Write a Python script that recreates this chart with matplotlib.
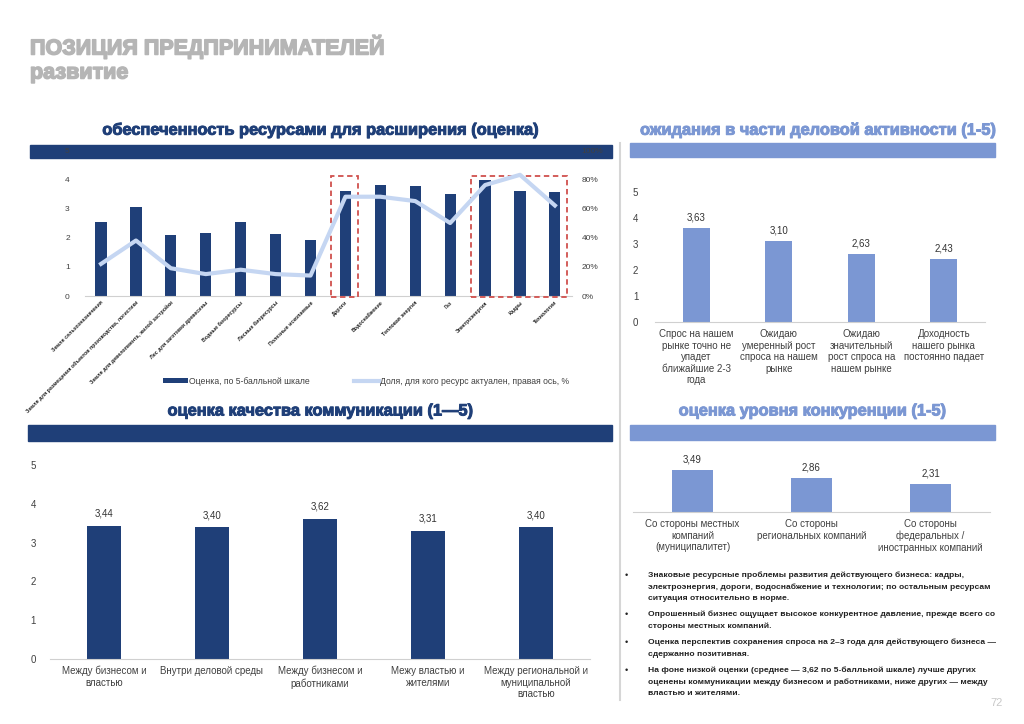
import matplotlib.pyplot as plt
import matplotlib.patheffects as pe
from matplotlib.patches import Rectangle
from matplotlib.lines import Line2D

plt.rcParams['font.family'] = ['Liberation Sans', 'DejaVu Sans']

W, H = 1024, 724

NAVY = '#1f3f78'
MID = '#7b97d3'
LIGHT = '#c5d6f2'
GREY_TXT = '#404040'
AXIS = '#d0d0d0'

# --- data -------------------------------------------------------------
resources = ['Земля сельхозназначения',
             'Земля для размещения объектов производства, логистики',
             'Земля для девелопмента, жилой застройки',
             'Лес для заготовки древесины',
             'Водные биоресурсы',
             'Лесные биоресурсы',
             'Полезные ископаемые',
             'Дороги',
             'Водоснабжение',
             'Тепловая энергия',
             'Газ',
             'Электроэнергия',
             'Кадры',
             'Технологии']
res_score = [2.52, 3.05, 2.08, 2.15, 2.52, 2.13, 1.92, 3.60, 3.80, 3.78, 3.50, 3.97, 3.58, 3.55]
res_share = [22, 38, 19, 15, 18, 15, 14, 68, 68, 65, 50, 76, 83, 62]
highlight = [(7, 7), (11, 13)]

expect_labels = ['Спрос на нашем\nрынке точно не\nупадет\nближайшие 2-3\nгода',
                 'Ожидаю\nумеренный рост\nспроса на нашем\nрынке',
                 'Ожидаю\nзначительный\nрост спроса на\nнашем рынке',
                 'Доходность\nнашего рынка\nпостоянно падает']
expect_vals = [3.63, 3.10, 2.63, 2.43]

comm_labels = ['Между бизнесом и\nвластью',
               'Внутри деловой среды',
               'Между бизнесом и\nработниками',
               'Межу властью и\nжителями',
               'Между региональной и\nмуниципальной\nвластью']
comm_vals = [3.44, 3.40, 3.62, 3.31, 3.40]

comp_labels = ['Со стороны местных\nкомпаний\n(муниципалитет)',
               'Со стороны\nрегиональных компаний',
               'Со стороны\nфедеральных /\nиностранных компаний']
comp_vals = [3.49, 2.86, 2.31]

bullets = [
    ['Знаковые ресурсные проблемы развития действующего бизнеса: кадры,',
     'электроэнергия, дороги, водоснабжение и технологии; по остальным ресурсам',
     'ситуация относительно в норме.'],
    ['Опрошенный бизнес ощущает высокое конкурентное давление, прежде всего со',
     'стороны местных компаний.'],
    ['Оценка перспектив сохранения спроса на 2–3 года для действующего бизнеса —',
     'сдержанно позитивная.'],
    ['На фоне низкой оценки (среднее — 3,62 по 5-балльной шкале) лучше других',
     'оценены коммуникации между бизнесом и работниками, ниже других — между',
     'властью и жителями.'],
]


def box(x0, y0, x1, y1):
    return [x0 / W, 1 - y1 / H, (x1 - x0) / W, (y1 - y0) / H]


def fx(x):
    return x / W


def fy(y):
    return 1 - y / H


def comma(v):
    return f'{v:.2f}'.replace('.', ',')


def band(x0, y0, x1, y1, color):
    fig.add_artist(Rectangle((fx(x0), fy(y1)), (x1 - x0) / W, (y1 - y0) / H,
                             transform=fig.transFigure, color=color, zorder=-1))


def heavy(x, y, s, color, size, ha='center', stroke=0.7):
    fig.text(fx(x), fy(y), s, fontsize=size, fontweight='bold', color=color,
             ha=ha, va='center',
             path_effects=[pe.Stroke(linewidth=stroke, foreground=color), pe.Normal()])


def plain_axes(ax):
    for s in ['top', 'right', 'left']:
        ax.spines[s].set_visible(False)
    ax.spines['bottom'].set_color(AXIS)
    ax.set_facecolor('none')
    ax.tick_params(length=0, colors=GREY_TXT)


fig = plt.figure(figsize=(W / 100, H / 100), dpi=100)

# header
heavy(30, 47, 'ПОЗИЦИЯ ПРЕДПРИНИМАТЕЛЕЙ', '#b5b5b5', 15.5, ha='left', stroke=1.1)
heavy(30, 73, 'развитие', '#b5b5b5', 15.5, ha='left', stroke=1.1)

# section titles and bands
heavy(320, 130, 'обеспеченность ресурсами для расширения (оценка)', NAVY, 11.8)
heavy(818, 130, 'ожидания в части деловой активности (1-5)', MID, 11.8)
heavy(320, 411, 'оценка качества коммуникации (1—5)', NAVY, 11.8)
heavy(812, 411, 'оценка уровня конкуренции (1-5)', MID, 11.8)
band(30, 145, 612, 158, NAVY)
band(630, 143, 995, 157, MID)
band(28, 425, 612, 441, NAVY)
band(630, 425, 995, 440, MID)

fig.add_artist(Line2D([fx(620), fx(620)], [fy(143), fy(700)], color='#d6d6d6',
                      lw=1.5, transform=fig.transFigure))

# --- chart 1: resources -----------------------------------------------
ax1 = fig.add_axes(box(85, 150, 572, 296))
plain_axes(ax1)
x1 = range(len(resources))
bars1 = ax1.bar(x1, res_score, width=0.32, color=NAVY, label='Оценка, по 5-балльной шкале')
ax1.set_ylim(0, 5)
ax1.set_xlim(-0.46, 13.49)
ax1.set_yticks(range(6))
ax1.tick_params(axis='y', labelsize=6, pad=11)
ax1.set_xticks(list(x1))
ax1.set_xticklabels(resources, rotation=45, ha='right', rotation_mode='anchor',
                    fontsize=3.8, fontweight='bold', color='#222222')
ax1.tick_params(axis='x', pad=3)

ax1b = ax1.twinx()
ax1b.set_facecolor('none')
for s in ax1b.spines.values():
    s.set_visible(False)
line1, = ax1b.plot(list(x1), res_share, color=LIGHT, lw=3, solid_joinstyle='round',
                   label='Доля, для кого ресурс актуален, правая ось, %')
ax1b.set_ylim(0, 100)
ax1b.set_yticks(range(0, 101, 20))
ax1b.set_yticklabels([f'{v}%' for v in range(0, 101, 20)])
ax1b.tick_params(length=0, labelsize=6, colors=GREY_TXT, pad=7)

for i0, i1 in highlight:
    ax1.add_patch(Rectangle((i0 - 0.4, -0.02), (i1 - i0) + 0.75, 4.12, fill=False,
                            ec='#d0504d', lw=1.3, ls=(0, (3, 2)), clip_on=False, zorder=5))

fig.legend([bars1, line1], [bars1.get_label(), line1.get_label()],
           loc='center', bbox_to_anchor=(fx(366), fy(381)), ncol=2, frameon=False,
           fontsize=6.2, handlelength=2.9, handleheight=0.55, columnspacing=5.1,
           handletextpad=0.15, labelcolor=GREY_TXT)

# --- chart 2: expectations --------------------------------------------
ax2 = fig.add_axes(box(655, 192, 985, 322))
plain_axes(ax2)
b2 = ax2.bar(range(len(expect_vals)), expect_vals, width=0.33, color=MID)
ax2.bar_label(b2, labels=[comma(v) for v in expect_vals], padding=4, fontsize=7,
              color='#333333')
ax2.set_ylim(0, 5)
ax2.set_xlim(-0.5, 3.5)
ax2.set_yticks(range(6))
ax2.tick_params(axis='y', labelsize=7, pad=12)
ax2.set_xticks(range(len(expect_labels)))
ax2.set_xticklabels(expect_labels, fontsize=7, color=GREY_TXT)
ax2.tick_params(axis='x', pad=5)

# --- chart 3: communication -------------------------------------------
ax3 = fig.add_axes(box(50, 465, 590, 659))
plain_axes(ax3)
b3 = ax3.bar(range(len(comm_vals)), comm_vals, width=0.32, color=NAVY)
ax3.bar_label(b3, labels=[comma(v) for v in comm_vals], padding=5, fontsize=7,
              color='#333333')
ax3.set_ylim(0, 5)
ax3.set_xlim(-0.5, 4.5)
ax3.set_yticks(range(6))
ax3.tick_params(axis='y', labelsize=7, pad=10)
ax3.set_xticks(range(len(comm_labels)))
ax3.set_xticklabels(comm_labels, fontsize=7, color=GREY_TXT)
ax3.tick_params(axis='x', pad=5)

# --- chart 4: competition ---------------------------------------------
ax4 = fig.add_axes(box(633, 452, 990, 512))
plain_axes(ax4)
b4 = ax4.bar(range(len(comp_vals)), comp_vals, width=0.35, color=MID)
ax4.bar_label(b4, labels=[comma(v) for v in comp_vals], padding=4, fontsize=7,
              color='#333333')
ax4.set_ylim(0, 5)
ax4.set_xlim(-0.5, 2.5)
ax4.set_yticks([])
ax4.set_xticks(range(len(comp_labels)))
ax4.set_xticklabels(comp_labels, fontsize=7, color=GREY_TXT)
ax4.tick_params(axis='x', pad=5)

# --- bullet notes -----------------------------------------------------
y = 575
for para in bullets:
    fig.text(fx(625), fy(y), '•', fontsize=6.5, color='#222222', va='center')
    for ln in para:
        fig.text(fx(648), fy(y), ln, fontsize=6.1, fontweight='bold', color='#222222',
                 va='center')
        y += 11.8
    y += 4.2

fig.text(fx(1003), fy(703), '72', fontsize=8, color='#c8c8c8', ha='right', va='center')

fig.savefig('out.png', dpi=100)
